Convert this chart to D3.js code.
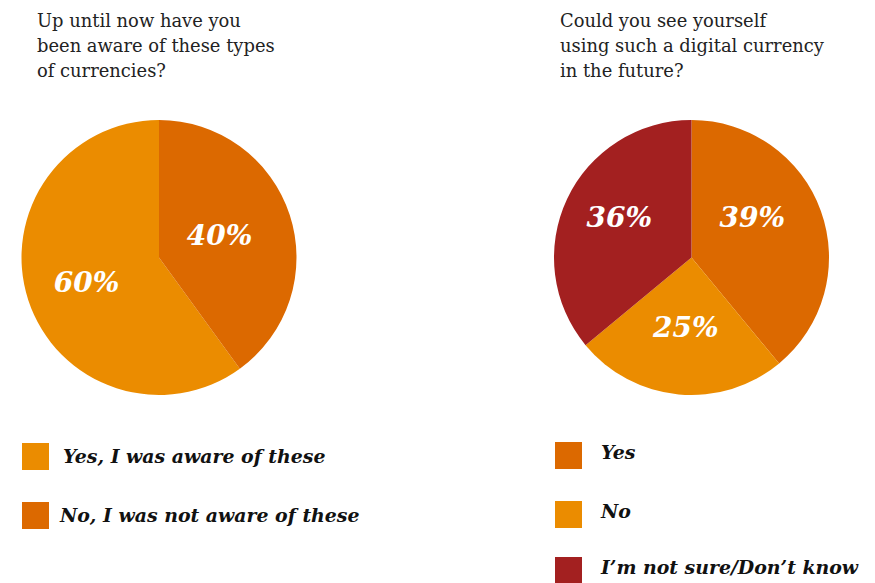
<!DOCTYPE html>
<html>
<head>
<meta charset="utf-8">
<script src="https://cdn.jsdelivr.net/npm/d3@7"></script>
<style>
  html, body { margin: 0; padding: 0; background: #fff; }
  svg { display: block; }
</style>
</head>
<body>
<div id="chart"></div>
<script>
// ---- Data ----
const leftTitle = ["Up until now have you", "been aware of these types", "of currencies?"];
const leftCategories = ["Yes, I was aware of these", "No, I was not aware of these"];
const leftValues = [60, 40];

const rightTitle = ["Could you see yourself", "using such a digital currency", "in the future?"];
const rightCategories = ["Yes", "No", "I\u2019m not sure/Don\u2019t know"];
const rightValues = [39, 25, 36];

// ---- Styles ----
const W = 875, H = 583;
const FONT = "'DejaVu Serif', 'Liberation Serif', serif";
const C_LIGHT = "#EB8C00", C_DARK = "#DC6900", C_RED = "#A32020";

const svg = d3.select("#chart").append("svg")
  .attr("width", W).attr("height", H);

function drawPanel(opts) {
  const g = svg.append("g");
  // title
  const t = g.append("text")
    .attr("x", opts.titleX).attr("y", 27)
    .attr("font-family", FONT).attr("font-size", 17.9).attr("fill", "#222");
  opts.title.forEach((line, i) => {
    t.append("tspan").attr("x", opts.titleX).attr("y", 27 + i * 25).text(line);
  });

  const color = d3.scaleOrdinal().domain(opts.categories).range(opts.colors);
  const pie = d3.pie().sort(null).value(d => d.value)
    .startAngle(opts.startAngle).endAngle(opts.startAngle + 2 * Math.PI);
  const data = opts.categories.map((c, i) => ({ cat: c, value: opts.values[i] }));
  const arcs = pie(data);
  const r = 137.5;
  const arc = d3.arc().innerRadius(0).outerRadius(r);
  const pg = g.append("g").attr("transform", `translate(${opts.cx},257.5)`);
  pg.selectAll("path").data(arcs).join("path")
    .attr("d", arc).attr("fill", d => color(d.data.cat));

  const labelArc = d3.arc().innerRadius(opts.labelR).outerRadius(opts.labelR);
  pg.selectAll("text.lbl").data(arcs).join("text")
    .attr("class", "lbl")
    .attr("transform", (d, i) => {
      const c = labelArc.centroid(d);
      const n = opts.nudge[i];
      return `translate(${c[0] + n[0]},${c[1] + n[1]})`;
    })
    .attr("text-anchor", "middle").attr("dy", "0.36em")
    .attr("font-family", FONT).attr("font-style", "italic").attr("font-weight", "bold")
    .attr("font-size", 28).attr("fill", "#fff")
    .text(d => d.data.value + "%");

  // legend
  const lg = g.append("g");
  opts.categories.forEach((c, i) => {
    const y = opts.legendY[i];
    lg.append("rect").attr("x", opts.legendX).attr("y", y).attr("width", 27).attr("height", 27)
      .attr("fill", color(c));
    lg.append("text").attr("x", opts.legendTextX[i]).attr("y", y + opts.legendBase)
      .attr("font-family", FONT).attr("font-style", "italic").attr("font-weight", "bold")
      .attr("font-size", 18.9).attr("fill", "#111")
      .text(c);
  });
}

drawPanel({
  title: leftTitle, titleX: 37,
  categories: leftCategories, values: leftValues,
  colors: [C_LIGHT, C_DARK],
  startAngle: 2 * Math.PI * 0.4,
  cx: 159, labelR: 72,
  nudge: [[-4, 2], [-8, 0]],
  legendX: 22, legendY: [443, 502], legendTextX: [63, 60], legendBase: 20
});

drawPanel({
  title: rightTitle, titleX: 560,
  categories: rightCategories, values: rightValues,
  colors: [C_DARK, C_LIGHT, C_RED],
  startAngle: 0,
  cx: 691.5, labelR: 72,
  nudge: [[-7, -16], [1, -2], [-7, -10]],
  legendX: 555, legendY: [442, 501, 557], legendTextX: [601, 601, 601], legendBase: 17
});
</script>
</body>
</html>
